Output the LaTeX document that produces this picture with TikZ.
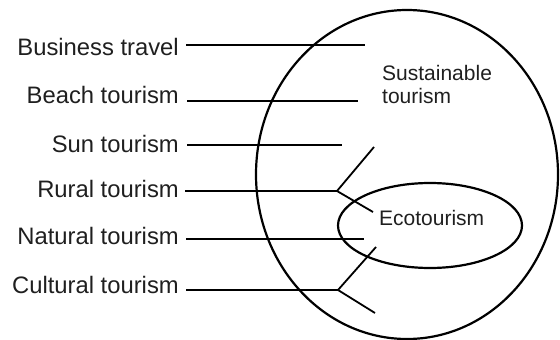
\documentclass[tikz,border=0pt]{standalone}
\usepackage{fontspec}
\setmainfont{Liberation Sans}
\begin{document}
\begin{tikzpicture}[x=1pt,y=-1pt,
  lbl/.style={anchor=base east,inner sep=0pt,font=\fontsize{23.8}{26}\selectfont,text=black!88},
  inlbl/.style={anchor=base west,inner sep=0pt,font=\fontsize{21}{23}\selectfont,text=black!88},
  thickln/.style={line width=2.6pt},
  thinln/.style={line width=1.8pt},
  ring/.style={line width=2.2pt}]
\useasboundingbox (0,0) rectangle (560,340);
% ellipses
\draw[ring] (407,174.5) ellipse [x radius=151, y radius=164.5];
\draw[ring] (430,225.5) ellipse [x radius=92, y radius=42.5];
% inner labels
\node[inlbl] (sus) at (382,80) {Sustainable};
\node[inlbl] (sus2) at (382,103) {tourism};
\node[inlbl] (eco) at (379,225) {Ecotourism};
% left labels
\node[lbl] (bt) at (179,55) {Business travel};
\node[lbl] (be) at (179,103) {Beach tourism};
\node[lbl] (su) at (179,152) {Sun tourism};
\node[lbl] (ru) at (179,197) {Rural tourism};
\node[lbl] (na) at (179,244) {Natural tourism};
\node[lbl] (cu) at (179,293) {Cultural tourism};
% coordinates
\coordinate (bt0) at (186,45);  \coordinate (bt1) at (365,45);
\coordinate (be0) at (187,101); \coordinate (be1) at (358,101);
\coordinate (su0) at (187,145); \coordinate (su1) at (342,145);
\coordinate (ru0) at (185,191); \coordinate (ru1) at (337,191);
\coordinate (ruA) at (374,147); \coordinate (ruB) at (373,212);
\coordinate (na0) at (186,239); \coordinate (na1) at (364,239);
\coordinate (cu0) at (186,290); \coordinate (cu1) at (338,290);
\coordinate (cuA) at (376,247); \coordinate (cuB) at (375,313);
% lines
\draw[thickln] (bt0) -- (bt1);
\draw[thinln] (be0) -- (be1);
\draw[thickln] (su0) -- (su1);
\draw[thickln] (ru0) -- (ru1);
\draw[thinln] (ru1) -- (ruA);
\draw[thinln] (ru1) -- (ruB);
\draw[thinln] (na0) -- (na1);
\draw[thickln] (cu0) -- (cu1);
\draw[thinln] (cu1) -- (cuA);
\draw[thinln] (cu1) -- (cuB);
\end{tikzpicture}
\end{document}
